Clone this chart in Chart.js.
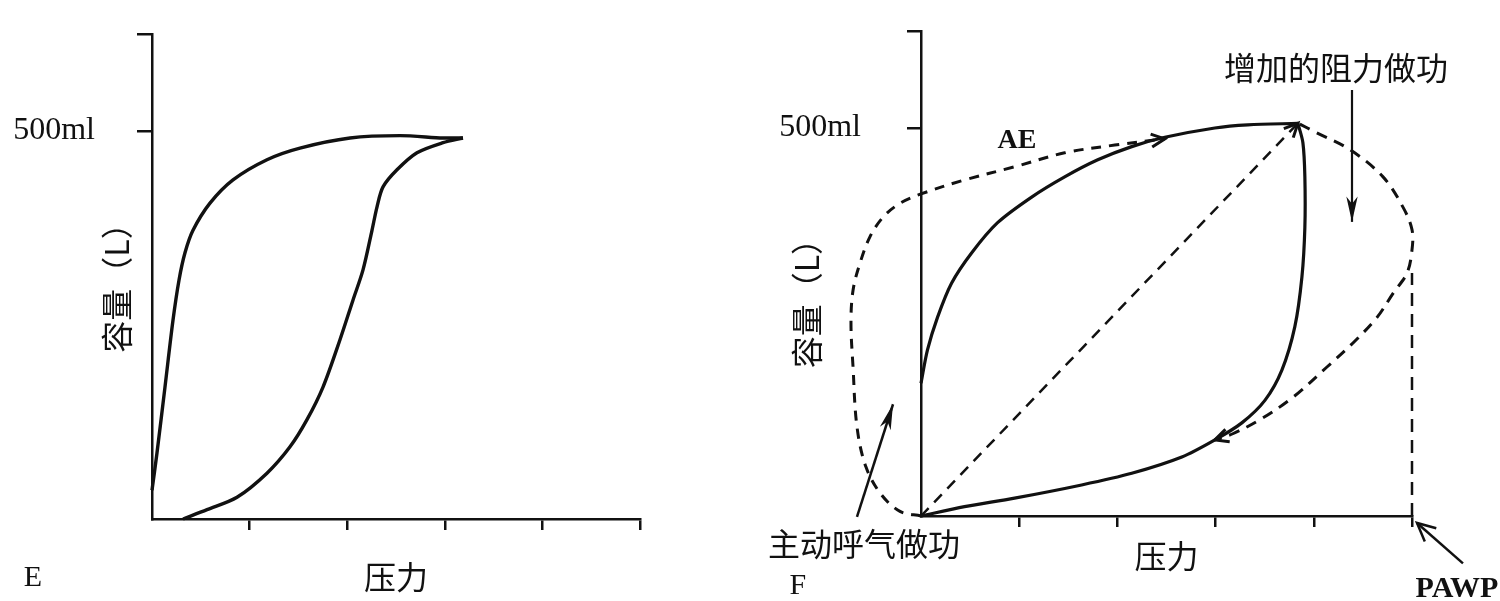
<!DOCTYPE html>
<html>
<head>
<meta charset="utf-8">
<script src="https://cdn.jsdelivr.net/npm/chart.js@4.4.0/dist/chart.umd.min.js"></script>
<style>
html,body{margin:0;padding:0;background:#fff;overflow:hidden}
#wrap{position:relative;width:1500px;height:601px}
canvas{position:absolute;top:0}
#cE{left:0}
#cF{left:740px}
</style>
</head>
<body>
<div id="wrap">
  <canvas id="cE" width="740" height="601"></canvas>
  <canvas id="cF" width="760" height="601"></canvas>
</div>
<script>
// x = 压力 (tick units 0..5), y = 容量 (ml)
const pressureTicks = [1, 2, 3, 4, 5];
const volumeTicks = [500, 625];
const volumeTickLabels = {500: '500ml'};
const X_MAX = 5, Y_MAX = 625;

// panel E
const eInflation = [[0,37],[0.051,85],[0.133,170],[0.215,256],[0.277,308],[0.338,343],[0.420,372],[0.594,407],[0.830,437],[1.178,463],[1.516,478],[2.029,491],[2.541,494],[2.982,491],[3.186,491]];
const eDeflation = [[3.186,491],[2.982,485],[2.715,472],[2.510,450],[2.367,428],[2.305,402],[2.254,372],[2.162,321],[2.059,282],[1.926,231],[1.752,170],[1.588,128],[1.414,93],[1.178,59],[0.871,28],[0.564,12],[0.318,0]];

// panel F
const fInspiration = [[0,171],[0.066,214],[0.168,256],[0.311,300],[0.515,339],[0.780,378],[1.127,411],[1.463,437],[1.800,459],[2.146,476],[2.483,488],[2.992,500],[3.328,504],[3.838,506]];
const fExpiration = [[3.838,506],[3.889,481],[3.909,437],[3.909,372],[3.879,308],[3.807,244],[3.675,188],[3.502,149],[3.267,120],[2.992,98],[2.656,76],[2.146,55],[1.636,40],[0.953,23],[0.443,12],[0,0]];
const fElastic = [[0,0],[3.838,506]];
const fResistLoop = [[3.858,505],[4.012,495],[4.369,472],[4.705,437],[4.908,398],[5.0,369],[5.0,343],[4.949,313],[4.807,287],[4.644,256],[4.399,223],[4.134,192],[3.788,153],[3.450,124],[3.175,106],[2.992,98]];
const fActiveLoop = [[0,0],[-0.214,6],[-0.407,28],[-0.560,63],[-0.652,115],[-0.692,192],[-0.713,249],[-0.692,291],[-0.621,326],[-0.519,360],[-0.387,385],[-0.214,403],[0,415],[0.443,433],[0.953,450],[1.463,468],[1.973,478],[2.483,486]];
const fPawp = [[5,0],[5,313]];

const SERIF = '"Liberation Serif", "DejaVu Serif", serif';
const CJK = '"Noto Sans CJK SC", "Noto Sans", sans-serif';
const INK = '#111';

function pts(arr) { return arr.map(p => ({x: p[0], y: p[1]})); }

function drawHead(ctx, tx, ty, ang, len, spread, solid) {
  const a1 = ang + Math.PI - spread, a2 = ang + Math.PI + spread;
  ctx.beginPath();
  ctx.moveTo(tx + len * Math.cos(a1), ty + len * Math.sin(a1));
  ctx.lineTo(tx, ty);
  ctx.lineTo(tx + len * Math.cos(a2), ty + len * Math.sin(a2));
  if (solid) { ctx.lineTo(tx + len * 0.7 * Math.cos(ang + Math.PI), ty + len * 0.7 * Math.sin(ang + Math.PI)); ctx.closePath(); ctx.fill(); }
  else ctx.stroke();
}

const annotate = {
  id: 'annotate',
  afterDraw(chart, args, opts) {
    const {ctx} = chart;
    const sx = chart.scales.x, sy = chart.scales.y;
    const px = p => [sx.getPixelForValue(p[0]), sy.getPixelForValue(p[1])];
    ctx.save();
    ctx.fillStyle = INK; ctx.strokeStyle = INK; ctx.setLineDash([]);
    (opts.texts || []).forEach(t => {
      const [X, Y] = px(t.at);
      ctx.save();
      ctx.translate(X, Y);
      if (t.rotate) ctx.rotate(t.rotate);
      ctx.font = t.font; ctx.textAlign = 'center'; ctx.textBaseline = 'middle';
      ctx.fillText(t.text, 0, 0);
      ctx.restore();
    });
    (opts.arrows || []).forEach(a => {
      const [x1, y1] = px(a.from), [x2, y2] = px(a.to);
      ctx.lineWidth = a.width; ctx.lineCap = 'butt';
      ctx.beginPath(); ctx.moveTo(x1, y1); ctx.lineTo(x2, y2); ctx.stroke();
      drawHead(ctx, x2, y2, Math.atan2(y2 - y1, x2 - x1), a.head, a.spread, a.solid);
    });
    (opts.heads || []).forEach(h => {
      const el = chart.getDatasetMeta(h.dataset).data;
      const a = el[el.length - 2], b = el[el.length - 1];
      ctx.lineWidth = 3;
      drawHead(ctx, b.x, b.y, Math.atan2(b.y - a.y, b.x - a.x), 15, 0.45, false);
    });
    ctx.restore();
  }
};

function panel(canvas, datasets, lay, notes) {
  return new Chart(canvas, {
    type: 'scatter',
    data: {datasets},
    options: {
      responsive: false, animation: false,
      layout: {padding: {left: 0, top: lay.top, right: lay.right, bottom: 0}},
      elements: {point: {radius: 0, hoverRadius: 0}, line: {borderColor: INK, fill: false, capBezierPoints: false}},
      plugins: {legend: {display: false}, tooltip: {enabled: false}, annotate: notes},
      scales: {
        x: {
          type: 'linear', min: 0, max: X_MAX,
          afterBuildTicks: s => { s.ticks = pressureTicks.map(v => ({value: v})); },
          afterFit: s => { s.height = lay.xHeight; s.paddingLeft = 0; s.paddingRight = 0; },
          grid: {drawOnChartArea: false, drawTicks: true, tickLength: 11, color: INK, lineWidth: 2.5},
          border: {display: true, color: INK, width: 2.5},
          ticks: {display: false},
          title: {display: true, text: '压力', color: INK, font: {family: CJK, size: 32}, padding: {top: 0, bottom: lay.xTitlePad}}
        },
        y: {
          type: 'linear', min: 0, max: Y_MAX,
          afterBuildTicks: s => { s.ticks = volumeTicks.map(v => ({value: v})); },
          afterFit: s => { s.width = lay.yWidth; s.paddingTop = 0; s.paddingBottom = 0; },
          grid: {drawOnChartArea: false, drawTicks: true, tickLength: lay.yTick, color: INK, lineWidth: 2.5},
          border: {display: true, color: INK, width: 2.5},
          ticks: {callback: v => volumeTickLabels[v] || '', color: INK, font: {family: SERIF, size: 32}, padding: lay.yLabelPad}
        }
      }
    },
    plugins: [annotate]
  });
}

const solid = (data, w) => ({data: pts(data), showLine: true, borderWidth: w, tension: 0.3, clip: false});
const dashed = (data, w, dash, t) => ({data: pts(data), showLine: true, borderWidth: w, borderDash: dash, tension: t, clip: false});

panel(document.getElementById('cE'),
  [solid(eInflation, 3.4), solid(eDeflation, 3.4)],
  {top: 34, right: 100, xHeight: 82, yWidth: 152, yTick: 15, yLabelPad: 42, xTitlePad: 5},
  {texts: [
    {text: 'E', at: [-1.219, -76], font: '30px ' + SERIF},
    {text: '容量（L）', at: [-0.359, 308], font: '32px ' + CJK, rotate: -Math.PI / 2}
  ]});

panel(document.getElementById('cF'),
  [solid(fInspiration, 3.2), solid(fExpiration, 3.2),
   dashed(fElastic, 2.5, [11, 8], 0), dashed(fResistLoop, 3, [11, 8], 0.35),
   dashed(fActiveLoop, 3, [10, 8], 0.35), dashed(fPawp, 2.5, [13, 8], 0)],
  {top: 31, right: 88, xHeight: 85, yWidth: 181, yTick: 14, yLabelPad: 46, xTitlePad: 26},
  {texts: [
    {text: 'F', at: [-1.253, -90], font: '30px ' + SERIF},
    {text: 'AE', at: [0.978, 483], font: 'bold 28px ' + SERIF},
    {text: '增加的阻力做功', at: [4.226, 577], font: '32px ' + CJK},
    {text: '主动呼气做功', at: [-0.580, -36], font: '32px ' + CJK},
    {text: 'PAWP', at: [5.458, -95], font: 'bold 30px ' + SERIF},
    {text: '容量（L）', at: [-1.161, 284], font: '32px ' + CJK, rotate: -Math.PI / 2}
   ],
   arrows: [
    {from: [4.389, 549], to: [4.389, 379], width: 2.2, head: 26, spread: 0.22, solid: true},
    {from: [-0.652, -1], to: [-0.285, 144], width: 2.5, head: 26, spread: 0.22, solid: true},
    {from: [5.519, -61], to: [5.051, -9], width: 2.5, head: 20, spread: 0.45, solid: false}
   ],
   heads: [{dataset: 4}, {dataset: 3}, {dataset: 2}]
  });
</script>
</body>
</html>
